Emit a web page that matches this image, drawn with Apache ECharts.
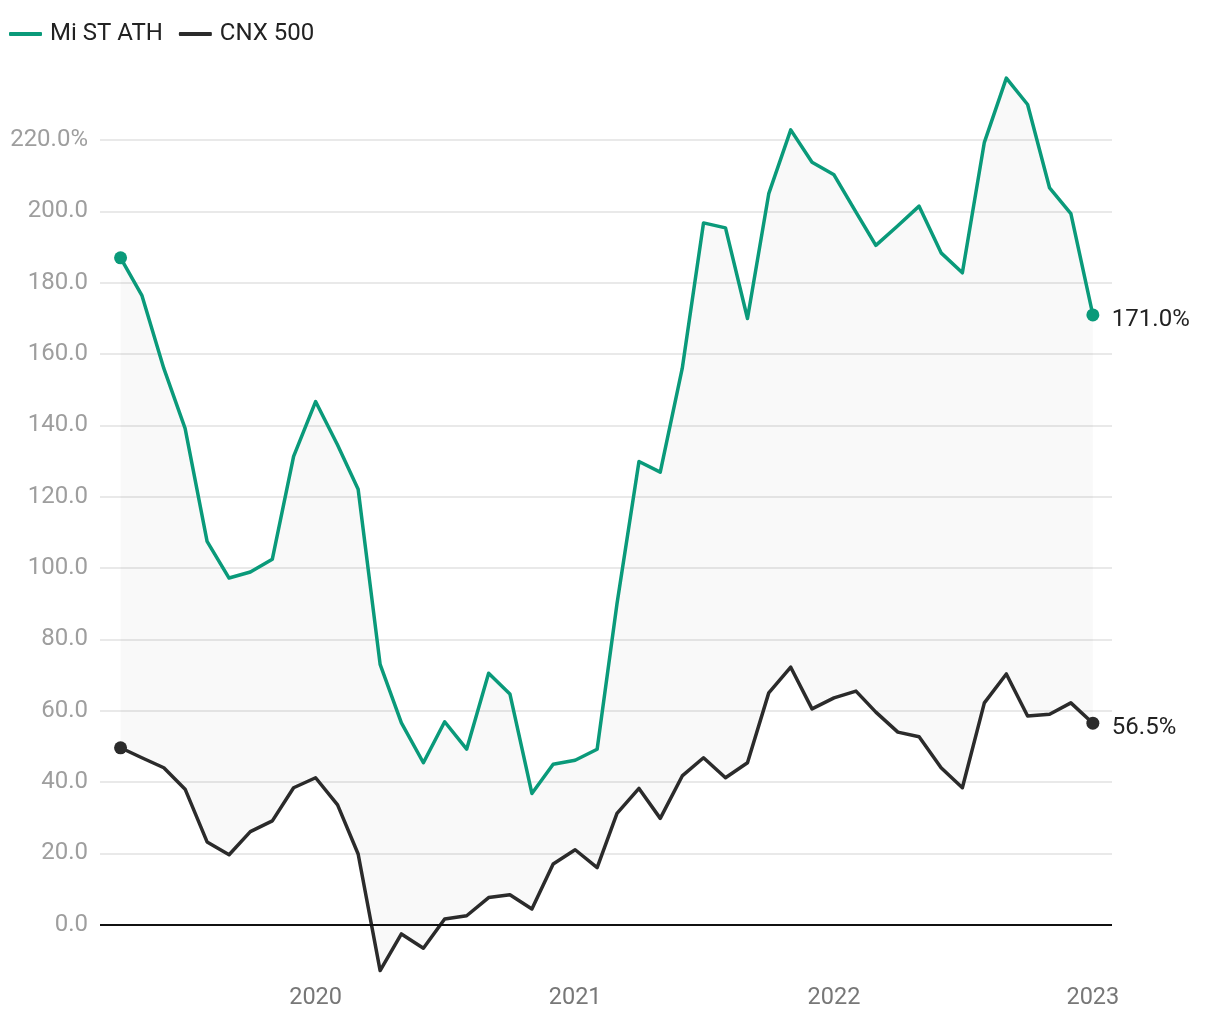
<!DOCTYPE html>
<html>
<head>
<meta charset="utf-8">
<script src="https://cdn.jsdelivr.net/npm/echarts@6/dist/echarts.min.js"></script>
<style>
html,body{margin:0;padding:0;background:#fff;}
#chart{width:1220px;height:1020px;}
</style>
</head>
<body>
<div id="chart"></div>
<script>
const dates = [
  "2019-04-01","2019-05-01","2019-06-01","2019-07-01","2019-08-01","2019-09-01","2019-10-01","2019-11-01","2019-12-01",
  "2020-01-01","2020-02-01","2020-03-01","2020-04-01","2020-05-01","2020-06-01","2020-07-01","2020-08-01","2020-09-01","2020-10-01","2020-11-01","2020-12-01",
  "2021-01-01","2021-02-01","2021-03-01","2021-04-01","2021-05-01","2021-06-01","2021-07-01","2021-08-01","2021-09-01","2021-10-01","2021-11-01","2021-12-01",
  "2022-01-01","2022-02-01","2022-03-01","2022-04-01","2022-05-01","2022-06-01","2022-07-01","2022-08-01","2022-09-01","2022-10-01","2022-11-01","2022-12-01",
  "2023-01-01"
];
const miStAth = [
  187.0, 176.5, 156.0, 139.2, 107.5, 97.2, 98.9, 102.5, 131.3,
  146.7, 134.5, 122.1, 73.0, 56.6, 45.4, 56.9, 49.2, 70.5, 64.7, 36.8, 45.0,
  46.1, 49.2, 90.0, 129.9, 126.9, 156.0, 196.8, 195.4, 170.0, 205.0, 222.9, 213.8,
  210.3, 199.8, 190.5, 196.0, 201.5, 188.4, 182.8, 219.4, 237.4, 230.0, 206.6, 199.4,
  171.0
];
const cnx500 = [
  49.6, 46.8, 44.0, 38.0, 23.2, 19.6, 26.1, 29.1, 38.4,
  41.2, 33.6, 19.8, -12.9, -2.6, -6.6, 1.6, 2.5, 7.6, 8.4, 4.4, 17.0,
  21.0, 16.0, 31.2, 38.2, 29.8, 41.7, 46.8, 41.2, 45.4, 65.0, 72.2, 60.5,
  63.6, 65.5, 59.6, 54.0, 52.7, 44.0, 38.4, 62.2, 70.3, 58.5, 59.0, 62.2,
  56.5
];
const seriesNames = ["Mi ST ATH", "CNX 500"];
const seriesColors = ["#0a9a7a", "#2b2b2b"];

const FONT = "Roboto";
const lastIdx = dates.length - 1;
const pairs = arr => dates.map((d, i) => [d, arr[i]]);
const gapArr = miStAth.map((v, i) => v - cnx500[i]);
const endSym = (v, p) => (p.dataIndex === 0 || p.dataIndex === lastIdx) ? 13 : 0;

function lineSeries(name, arr, color, z) {
  return {
    name: name, type: "line", data: pairs(arr), z: z,
    showSymbol: true, showAllSymbol: true, symbol: "circle", symbolSize: endSym,
    itemStyle: { color: color },
    lineStyle: { color: color, width: 3.5, join: "round" },
    emphasis: { disabled: true },
    endLabel: {
      show: true, distance: 19, offset: [0, 5],
      formatter: p => p.value[1].toFixed(1) + "%",
      color: "#222", fontFamily: FONT, fontSize: 24
    },
    animation: false
  };
}

const chart = echarts.init(document.getElementById("chart"), null, { renderer: "canvas" });
chart.setOption({
  animation: false,
  backgroundColor: "#fff",
  legend: {
    data: seriesNames,
    left: 4, top: 17,
    icon: "roundRect", itemWidth: 33, itemHeight: 4, itemGap: 16,
    textStyle: { fontFamily: FONT, fontSize: 24, color: "#222", padding: [0, 0, 0, 3] }
  },
  grid: { left: 100, right: 108, top: 76, bottom: 49 },
  xAxis: {
    type: "time",
    min: "2019-03-03", max: "2023-01-28",
    splitNumber: 4,
    axisLine: { show: false },
    axisTick: { show: false },
    splitLine: { show: false },
    axisLabel: {
      showMinLabel: false, showMaxLabel: false,
      margin: 15, color: "#777", fontFamily: FONT, fontSize: 23.5,
      formatter: v => { const d = new Date(v); return (d.getMonth() === 0 && d.getDate() === 1) ? String(d.getFullYear()) : ""; }
    }
  },
  yAxis: {
    type: "value",
    min: -13, max: 238, splitNumber: 12, minInterval: 20, maxInterval: 20,
    axisLine: { show: false },
    axisTick: { show: false },
    axisLabel: {
      showMinLabel: false, showMaxLabel: false,
      margin: 12, color: "#9e9e9e", fontFamily: FONT, fontSize: 24,
      formatter: v => v.toFixed(1) + (v === 220 ? "%" : "")
    },
    splitLine: { show: true, showMinLine: false, showMaxLine: false, lineStyle: { color: "#e2e2e2", width: 1.5 } }
  },
  series: [
    { name: "base", type: "line", stack: "band", stackStrategy: "all", data: pairs(cnx500),
      symbol: "none", lineStyle: { width: 0, opacity: 0 }, silent: true, z: 1, animation: false },
    { name: "band", type: "line", stack: "band", stackStrategy: "all", data: pairs(gapArr),
      symbol: "none", lineStyle: { width: 0, opacity: 0 }, areaStyle: { color: "rgba(0,0,0,0.03)" }, silent: true, z: 1, animation: false,
      markLine: { silent: true, symbol: "none", label: { show: false },
        lineStyle: { color: "#111", width: 2, type: "solid" }, data: [{ yAxis: 0 }] } },
    lineSeries(seriesNames[1], cnx500, seriesColors[1], 3),
    lineSeries(seriesNames[0], miStAth, seriesColors[0], 4)
  ]
});
</script>
</body>
</html>
